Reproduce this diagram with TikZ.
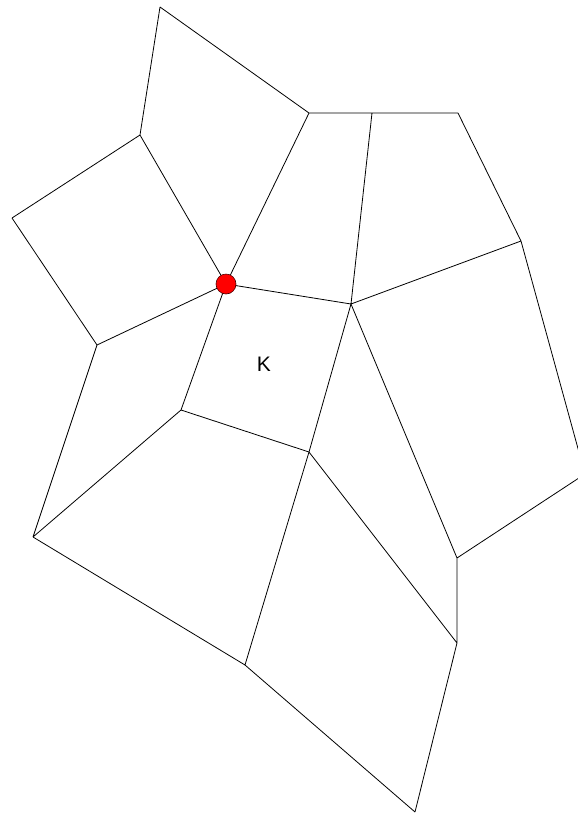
\documentclass[tikz,border=0pt]{standalone}
\usepackage{fontspec}
\setmainfont{Liberation Sans}
\begin{document}
\begin{tikzpicture}[x=1pt,y=-1pt,
  edge/.style={draw=black,line width=0.8pt},
  vtx/.style={coordinate}]
\useasboundingbox (0,0) rectangle (578,815);
\clip (0,0) rectangle (578,815);
\coordinate (A) at (160,7);
\coordinate (B) at (140,135);
\coordinate (C) at (12,218);
\coordinate (D) at (97,345);
\coordinate (E) at (226,284);
\coordinate (F) at (309,113);
\coordinate (G) at (372,113);
\coordinate (H) at (458,113);
\coordinate (I) at (521,241);
\coordinate (J) at (351,304);
\coordinate (L) at (181,410);
\coordinate (M) at (309,452);
\coordinate (N) at (33,537);
\coordinate (O) at (585,474);
\coordinate (P) at (457,558);
\coordinate (Q) at (457,643);
\coordinate (R) at (245,665);
\coordinate (S) at (415,812);
\draw[edge] (A)--(B) (A)--(F) (B)--(C) (B)--(E) (C)--(D) (D)--(E)
  (E)--(F) (F)--(G) (G)--(H) (H)--(I) (G)--(J) (E)--(J) (J)--(I)
  (I)--(O) (O)--(P) (P)--(Q) (J)--(P) (E)--(L) (L)--(M) (J)--(M)
  (L)--(N) (D)--(N) (N)--(R) (M)--(R) (M)--(Q) (R)--(S) (Q)--(S);
\node[font=\fontsize{21}{24}\selectfont] (k) at (264,364) {K};
\node[circle,fill=red,draw=black!70!red,line width=0.6pt,minimum size=20pt,inner sep=0pt] (dot) at (E) {};
\end{tikzpicture}
\end{document}
